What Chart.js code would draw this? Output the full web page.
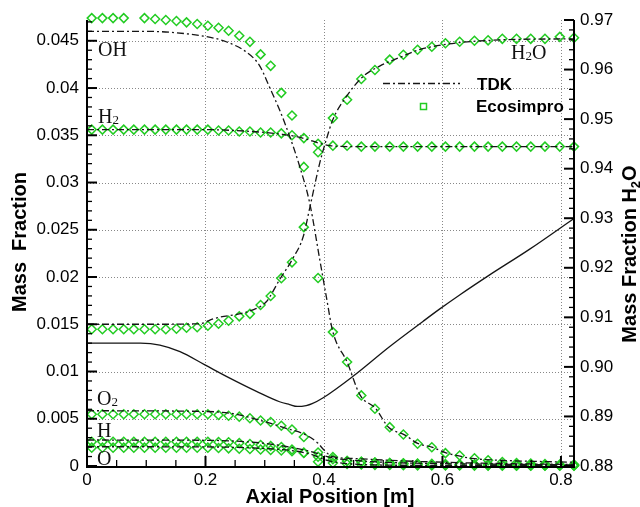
<!DOCTYPE html>
<html><head><meta charset="utf-8">
<script src="https://cdn.jsdelivr.net/npm/chart.js@4.4.0/dist/chart.umd.min.js"></script>
<style>html,body{margin:0;padding:0;background:#fff;}canvas{display:block;}</style>
</head><body>
<canvas id="c" width="640" height="507"></canvas>
<script>
// ---------- DATA ----------
const xEco = [0.008,0.026,0.044,0.062,0.079,0.097,0.115,0.133,0.151,0.168,0.186,0.204,0.222,0.239,0.257,0.275,0.293,0.310,0.328,0.346,0.366,0.390,0.415,0.439,0.463,0.486,0.511,0.534,0.558,0.582,0.605,0.629,0.654,0.677,0.701,0.725,0.749,0.773,0.798,0.822];

const ohEco = [0.0474,0.0474,0.0474,0.0474,null,0.0474,0.0473,0.0472,0.0471,0.04695,0.04677,0.04659,0.04638,0.04606,0.04553,0.04489,0.04356,0.04235,0.03949,0.03710,0.03165,0.01989,0.01417,0.01100,0.00747,0.00606,0.00411,0.00334,0.00235,0.00199,0.00136,0.00111,0.00082,0.00060,0.00042,0.00032,0.00026,0.00021,0.00016,0.00016];
const h2Eco = [0.0356,0.0356,0.0356,0.0356,0.0356,0.0356,0.0356,0.0356,0.0356,0.0356,0.0356,0.0356,0.0355,0.0355,0.0354,0.0354,0.0353,0.0353,0.0352,0.0350,0.0347,0.0341,0.0339,0.0339,0.0338,0.0338,0.0338,0.0338,0.0338,0.0338,0.0338,0.0338,0.0338,0.0338,0.0338,0.0338,0.0338,0.0338,0.0338,0.0338];
const h2oEco = [0.9076,0.9076,0.9076,0.9076,0.9076,0.9076,0.9076,0.9076,0.9077,0.9079,0.9080,0.9083,0.9087,0.9093,0.9102,0.9107,0.9125,0.9143,0.9179,0.9211,0.9282,0.9433,0.9502,0.9539,0.9581,0.9599,0.9620,0.9630,0.9640,0.9646,0.9653,0.9656,0.9658,0.9659,0.9662,0.9662,0.9662,0.9662,0.9666,0.9664];
const o2Eco = [0.00547,0.00547,0.00547,0.00547,0.00547,0.00547,0.00547,0.00547,0.00547,0.00547,0.00547,0.00547,0.00540,0.00532,0.00522,0.00505,0.00481,0.00466,0.00426,0.00386,0.00307,0.00143,0.00095,0.00053,0.00045,0.00037,0.00030,0.00025,0.00020,0.00015,0.00012,0.00010,0.00010,0.00008,0.00008,0.00006,0.00006,0.00005,0.00005,0.00004];
const hEco = [0.00257,0.00257,0.00257,0.00257,0.00257,0.00257,0.00257,0.00257,0.00257,0.00257,0.00257,0.00257,0.00254,0.00251,0.00243,0.00233,0.00222,0.00212,0.00201,0.00175,0.00141,0.00098,0.00071,0.00053,0.00045,0.00037,0.00032,0.00029,0.00025,0.00022,0.00020,0.00018,0.00016,0.00015,0.00014,0.00013,0.00012,0.00011,0.00010,0.00010];
const oEco = [0.00194,0.00194,0.00194,0.00194,0.00194,0.00194,0.00194,0.00194,0.00194,0.00194,0.00194,0.00194,0.00190,0.00187,0.00183,0.00180,0.00175,0.00169,0.00164,0.00156,0.00138,0.00045,0.00032,0.00021,0.00016,0.00012,0.00010,0.00008,0.00007,0.00006,0.00005,0.00005,0.00004,0.00004,0.00003,0.00003,0.00003,0.00002,0.00002,0.00002];

const ohX   = [0,0.10,0.14,0.196,0.235,0.269,0.291,0.308,0.325,0.342,0.359,0.376,0.393,0.404,0.415,0.439,0.461,0.487,0.509,0.536,0.558,0.582,0.606,0.625,0.65,0.70,0.75,0.822];
const ohTDK = [0.0460,0.0460,0.0459,0.0455,0.0449,0.0438,0.0424,0.0401,0.0377,0.0349,0.0317,0.0278,0.0218,0.0179,0.0142,0.0110,0.0075,0.0061,0.0041,0.0033,0.0024,0.0020,0.0014,0.0011,0.0008,0.0006,0.0005,0.0004];
const h2X   = [0,0.2,0.25,0.3,0.33,0.35,0.37,0.39,0.41,0.45,0.5,0.822];
const h2TDK = [0.0356,0.0356,0.0355,0.0353,0.0351,0.0349,0.0346,0.0342,0.0339,0.0338,0.0338,0.0338];
const h2oX   = [0,0.1,0.19,0.213,0.28,0.303,0.325,0.348,0.365,0.376,0.393,0.404,0.415,0.438,0.466,0.494,0.527,0.561,0.606,0.7,0.822];
const h2oTDK = [0.9086,0.9086,0.9087,0.9097,0.9115,0.9132,0.9176,0.9220,0.9263,0.9321,0.9412,0.9459,0.9499,0.9546,0.9586,0.9607,0.9624,0.9640,0.9651,0.9660,0.9662];
const o2X   = [0,0.2,0.25,0.30,0.336,0.37,0.39,0.40,0.415,0.45,0.5,0.6,0.7,0.822];
const o2TDK = [0.00585,0.00577,0.0055,0.00469,0.00399,0.00328,0.0024,0.00169,0.00098,0.0008,0.00063,0.0004,0.00026,0.00016];
const hoX   = [0,0.2,0.3,0.35,0.38,0.40,0.42,0.45,0.5,0.6,0.7,0.822];
const hTDK  = [0.00275,0.00272,0.0024,0.0019,0.0015,0.0011,0.0008,0.0006,0.0004,0.00025,0.00018,0.00012];
const oTDK  = [0.00204,0.00202,0.00185,0.0016,0.0012,0.0007,0.0004,0.0002,0.0001,0.00006,0.00004,0.00003];
const solidX = [0,0.09,0.123,0.157,0.199,0.241,0.286,0.325,0.342,0.355,0.37,0.38,0.398,0.449,0.51,0.567,0.595,0.629,0.679,0.746,0.822];
const solidY = [0.0130,0.0130,0.0128,0.0121,0.0107,0.0093,0.0079,0.0068,0.0065,0.0063,0.0064,0.0066,0.0072,0.0095,0.0126,0.0153,0.0166,0.0181,0.0202,0.0229,0.0262];

const xTicks = [0,0.2,0.4,0.6,0.8];
const leftTicks = [0,0.005,0.01,0.015,0.02,0.025,0.03,0.035,0.04,0.045];
const rightTicks = [0.88,0.89,0.90,0.91,0.92,0.93,0.94,0.95,0.96,0.97];
const speciesLabels = [
  {t:'OH', sub:'', after:'', x:98, y:56},
  {t:'H', sub:'2', after:'', x:98, y:123},
  {t:'O', sub:'2', after:'', x:97, y:405},
  {t:'H', sub:'', after:'', x:97, y:437},
  {t:'O', sub:'', after:'', x:97, y:465},
  {t:'H', sub:'2', after:'O', x:511, y:59}
];

// ---------- CHART ----------
const pts = (xs, ys) => xs.map((x,i)=>({x:x, y:ys[i]}));
const GREEN = '#22cc22';
const DASH = [7,3,2,3];
const lineDs = (xs, ys, axis) => ({type:'line', data:pts(xs,ys), yAxisID:axis, borderColor:'#151515', borderWidth:1.3,
  borderDash:DASH, pointRadius:0, fill:false, cubicInterpolationMode:'monotone', clip:false});
const ecoDs = (ys, axis) => ({type:'line', data:pts(xEco,ys), yAxisID:axis, showLine:false, pointStyle:'rectRot',
  pointRadius:4.5, pointBorderColor:GREEN, pointBackgroundColor:'rgba(0,0,0,0)', pointBorderWidth:1.5, borderColor:GREEN, clip:false});

const FONT = '"Liberation Sans", Arial, sans-serif';
const SERIF = '"Liberation Serif", "Times New Roman", serif';

const deco = {
  id:'deco',
  beforeDatasetsDraw(chart){
    const {ctx, chartArea:a, scales} = chart;
    const x = scales.x, y = scales.y;
    ctx.save();
    ctx.strokeStyle='#888'; ctx.lineWidth=1; ctx.setLineDash([1,2]);
    leftTicks.forEach(v=>{ if(v===0) return; const py=Math.round(y.getPixelForValue(v))+0.5;
      ctx.beginPath(); ctx.moveTo(a.left,py); ctx.lineTo(a.right,py); ctx.stroke();});
    xTicks.forEach(v=>{ if(v===0) return; const px=Math.round(x.getPixelForValue(v))+0.5;
      ctx.beginPath(); ctx.moveTo(px,a.top); ctx.lineTo(px,a.bottom); ctx.stroke();});
    ctx.restore();
  },
  afterDatasetsDraw(chart){
    const {ctx, chartArea:a, scales} = chart;
    const x = scales.x, y = scales.y, y2 = scales.y2;
    ctx.save();
    ctx.strokeStyle='#000'; ctx.setLineDash([]);
    // axis lines
    ctx.lineWidth=2;
    ctx.beginPath(); ctx.moveTo(a.left,a.top); ctx.lineTo(a.left,a.bottom+1); ctx.lineTo(a.right,a.bottom+1); ctx.lineTo(a.right,a.top); ctx.stroke();
    // left ticks
    for(let i=0;i<=47;i++){ const v=i*0.001; const maj=i%5===0; const py=y.getPixelForValue(v);
      ctx.lineWidth = maj?2:1.3; ctx.beginPath(); ctx.moveTo(a.left,py); ctx.lineTo(a.left+(maj?10:5),py); ctx.stroke(); }
    // right ticks
    for(let i=0;i<=45;i++){ const v=0.88+i*0.002; const maj=i%5===0; const py=y2.getPixelForValue(v);
      ctx.lineWidth = maj?2:1.3; ctx.beginPath(); ctx.moveTo(a.right,py); ctx.lineTo(a.right-(maj?10:5),py); ctx.stroke(); }
    // bottom ticks
    for(let i=0;i<=16;i++){ const v=i*0.05; const maj=i%4===0; const px=x.getPixelForValue(v);
      ctx.lineWidth = maj?2:1.3; ctx.beginPath(); ctx.moveTo(px,a.bottom); ctx.lineTo(px,a.bottom-(maj?10:6)); ctx.stroke(); }
    ctx.restore();
  },
  afterDraw(chart){
    const {ctx} = chart;
    ctx.save();
    ctx.fillStyle='#000';
    // x title
    ctx.font='bold 20px '+FONT; ctx.textAlign='center'; ctx.textBaseline='middle';
    ctx.fillText('Axial Position [m]', 330, 497);
    // left title
    ctx.save(); ctx.translate(20,242); ctx.rotate(-Math.PI/2);
    ctx.fillText('Mass  Fraction',0,0); ctx.restore();
    // right title with subscript
    ctx.save(); ctx.translate(629,254); ctx.rotate(-Math.PI/2);
    ctx.textAlign='left'; ctx.textBaseline='alphabetic';
    const p1='Mass Fraction H', p2='2', p3='O';
    ctx.font='bold 20px '+FONT; const w1=ctx.measureText(p1).width, w3=ctx.measureText(p3).width;
    ctx.font='bold 13px '+FONT; const w2=ctx.measureText(p2).width;
    let sx=-(w1+w2+w3)/2;
    ctx.font='bold 20px '+FONT; ctx.fillText(p1,sx,7); sx+=w1;
    ctx.font='bold 13px '+FONT; ctx.fillText(p2,sx,11); sx+=w2;
    ctx.font='bold 20px '+FONT; ctx.fillText(p3,sx,7);
    ctx.restore();
    // species labels
    ctx.fillStyle='#111'; ctx.textAlign='left'; ctx.textBaseline='alphabetic';
    speciesLabels.forEach(s=>{
      let sx=s.x;
      ctx.font='20px '+SERIF; ctx.fillText(s.t,sx,s.y); sx+=ctx.measureText(s.t).width;
      if(s.sub){ ctx.font='13px '+SERIF; ctx.fillText(s.sub,sx,s.y+1); sx+=ctx.measureText(s.sub).width; }
      if(s.after){ ctx.font='20px '+SERIF; ctx.fillText(s.after,sx,s.y); }
    });
    // legend
    ctx.strokeStyle='#151515'; ctx.lineWidth=1.5; ctx.setLineDash(DASH);
    ctx.beginPath(); ctx.moveTo(383,83.5); ctx.lineTo(460,83.5); ctx.stroke();
    ctx.setLineDash([]);
    ctx.strokeStyle=GREEN; ctx.lineWidth=1.5; ctx.strokeRect(420.5,103.5,6,6);
    ctx.fillStyle='#000'; ctx.font='bold 17px '+FONT; ctx.textBaseline='middle';
    ctx.fillText('TDK',477,85); ctx.fillText('Ecosimpro',476,107);
    ctx.restore();
  }
};

const fmt = v => String(parseFloat(Number(v).toFixed(4)));
new Chart(document.getElementById('c'), {
  type:'line',
  data:{datasets:[
    {type:'line', data:pts(solidX,solidY), yAxisID:'y', borderColor:'#151515', borderWidth:1.3, pointRadius:0, fill:false, cubicInterpolationMode:'monotone'},
    lineDs(ohX,ohTDK,'y'), lineDs(h2X,h2TDK,'y'), lineDs(h2oX,h2oTDK,'y2'),
    lineDs(o2X,o2TDK,'y'), lineDs(hoX,hTDK,'y'), lineDs(hoX,oTDK,'y'),
    ecoDs(ohEco,'y'), ecoDs(h2Eco,'y'), ecoDs(h2oEco,'y2'), ecoDs(o2Eco,'y'), ecoDs(hEco,'y'), ecoDs(oEco,'y')
  ]},
  options:{
    responsive:false, animation:false, events:[],
    layout:{padding:{top:20,left:0,right:0,bottom:0}},
    plugins:{legend:{display:false}, tooltip:{enabled:false}},
    scales:{
      x:{type:'linear', min:0, max:0.822, position:'bottom',
        grid:{display:false, drawTicks:false}, border:{display:false},
        ticks:{stepSize:0.2, includeBounds:false, padding:4, maxRotation:0, color:'#000', font:{family:FONT, size:17}, callback:v=>fmt(v)},
        afterFit:s=>{s.height=41;}},
      y:{type:'linear', min:0, max:0.0472, position:'left',
        grid:{display:false, drawTicks:false}, border:{display:false},
        ticks:{stepSize:0.005, includeBounds:false, padding:8, color:'#000', font:{family:FONT, size:17}, callback:v=>fmt(v)},
        afterFit:s=>{s.width=87;}},
      y2:{type:'linear', min:0.88, max:0.97, position:'right',
        grid:{display:false, drawTicks:false}, border:{display:false},
        ticks:{stepSize:0.01, includeBounds:false, padding:6, color:'#000', font:{family:FONT, size:17}, callback:v=>Number(v).toFixed(2)},
        afterFit:s=>{s.width=66;}}
    }
  },
  plugins:[deco]
});
</script>
</body></html>
